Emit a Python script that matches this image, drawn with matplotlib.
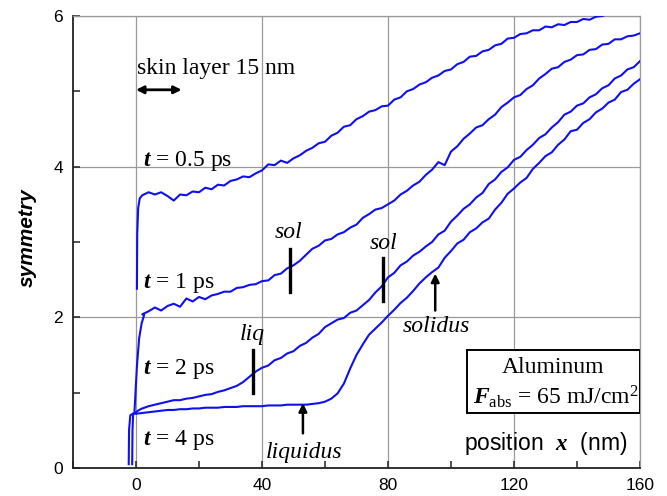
import numpy as np
import matplotlib
matplotlib.use("Agg")
import matplotlib.pyplot as plt
from matplotlib.patches import Rectangle
from matplotlib.ticker import MultipleLocator

plt.rcParams["mathtext.fontset"] = "custom"
plt.rcParams["mathtext.rm"] = "Liberation Serif"
plt.rcParams["mathtext.it"] = "Liberation Serif:italic"
plt.rcParams["mathtext.bf"] = "Liberation Serif:bold:italic"

# sampling grid (nm) for the profiles, after the steep rise near x = 0
pos = np.arange(2, 162, 2)

# t = 0.5 ps
head_05_x = [0.3, 0.4, 0.7, 1.2]
head_05_y = [2.38, 3.10, 3.45, 3.58]
t05 = [3.62, 3.66, 3.63, 3.66, 3.61, 3.55, 3.63, 3.62, 3.67, 3.66,
       3.72, 3.70, 3.76, 3.75, 3.81, 3.83, 3.87, 3.86, 3.91, 3.95,
       4.03, 4.02, 4.08, 4.05, 4.11, 4.15, 4.21, 4.25, 4.31, 4.33,
       4.41, 4.45, 4.53, 4.55, 4.63, 4.67, 4.73, 4.75, 4.80, 4.81,
       4.89, 4.92, 5.00, 5.03, 5.09, 5.12, 5.18, 5.21, 5.27, 5.29,
       5.36, 5.39, 5.46, 5.47, 5.53, 5.55, 5.61, 5.63, 5.70, 5.71,
       5.76, 5.77, 5.81, 5.81, 5.86, 5.85, 5.89, 5.88, 5.92, 5.92,
       5.96, 5.95, 5.99, 6.00, 6.03]

# t = 1 ps
head_1_x = [-0.5, 0.3, 1.0, 1.8, 2.6]
head_1_y = [0.73, 1.35, 1.72, 1.92, 2.03]
t1 = [2.04, 2.08, 2.13, 2.09, 2.15, 2.18, 2.14, 2.25, 2.21, 2.27,
      2.24, 2.29, 2.31, 2.34, 2.34, 2.39, 2.40, 2.43, 2.44, 2.48,
      2.49, 2.56, 2.58, 2.65, 2.69, 2.75, 2.83, 2.91, 2.95, 3.02,
      3.04, 3.10, 3.13, 3.19, 3.23, 3.32, 3.37, 3.43, 3.45, 3.50,
      3.55, 3.63, 3.68, 3.75, 3.80, 3.89, 3.96, 4.06, 4.02, 4.20,
      4.27, 4.37, 4.44, 4.52, 4.55, 4.63, 4.69, 4.79, 4.85, 4.92,
      4.95, 5.03, 5.08, 5.17, 5.23, 5.30, 5.32, 5.39, 5.42, 5.48,
      5.49, 5.55, 5.56, 5.62, 5.63, 5.69, 5.69, 5.73, 5.74, 5.77]

# t = 2 ps
head_2_x = [-1.2, -1.1, -0.9, 0.0, 1.0]
head_2_y = [0.05, 0.50, 0.72, 0.74, 0.77]
t2 = [0.79, 0.82, 0.84, 0.86, 0.88, 0.90, 0.90, 0.92, 0.93, 0.95,
      0.97, 0.98, 1.01, 1.03, 1.06, 1.09, 1.14, 1.21, 1.28, 1.33,
      1.36, 1.43, 1.46, 1.52, 1.55, 1.62, 1.66, 1.73, 1.78, 1.87,
      1.92, 1.97, 1.99, 2.06, 2.09, 2.16, 2.23, 2.33, 2.41, 2.53,
      2.59, 2.69, 2.74, 2.82, 2.87, 2.94, 3.00, 3.10, 3.15, 3.27,
      3.35, 3.44, 3.50, 3.59, 3.65, 3.77, 3.83, 3.93, 3.99, 4.09,
      4.13, 4.22, 4.29, 4.38, 4.43, 4.52, 4.59, 4.69, 4.73, 4.81,
      4.84, 4.92, 4.96, 5.04, 5.08, 5.17, 5.21, 5.29, 5.32, 5.40]

# t = 4 ps
head_4_x = [-2.3, -2.2, -1.8, -1.0, 0.0]
head_4_y = [0.05, 0.50, 0.70, 0.72, 0.72]
t4 = [0.73, 0.74, 0.75, 0.76, 0.77, 0.77, 0.78, 0.78, 0.79, 0.79,
      0.80, 0.80, 0.80, 0.81, 0.81, 0.81, 0.82, 0.82, 0.82, 0.82,
      0.83, 0.83, 0.83, 0.84, 0.84, 0.84, 0.84, 0.85, 0.86, 0.88,
      0.92, 0.99, 1.12, 1.32, 1.50, 1.64, 1.77, 1.85, 1.93, 2.02,
      2.10, 2.19, 2.26, 2.35, 2.45, 2.53, 2.60, 2.66, 2.79, 2.88,
      2.98, 3.03, 3.13, 3.18, 3.26, 3.31, 3.43, 3.52, 3.64, 3.71,
      3.79, 3.85, 3.97, 4.05, 4.14, 4.19, 4.29, 4.36, 4.47, 4.49,
      4.58, 4.63, 4.72, 4.77, 4.85, 4.89, 4.99, 5.02, 5.10, 5.16]

curves = [(head_05_x, head_05_y, t05), (head_1_x, head_1_y, t1),
          (head_2_x, head_2_y, t2), (head_4_x, head_4_y, t4)]

fig = plt.figure(figsize=(6.67, 4.96), dpi=100)
ax = fig.add_axes([0.1094, 0.0565, 0.8501, 0.9113])

for hx, hy, vals in curves:
    xs = list(hx) + list(pos[:len(vals)])
    ys = list(hy) + list(vals)
    ax.plot(xs, ys, color="#1010ee", lw=1.5, zorder=3, clip_on=True)

ax.set_xlim(-20, 160)
ax.set_ylim(0, 6)
ax.xaxis.set_major_locator(MultipleLocator(40))
ax.xaxis.set_minor_locator(MultipleLocator(20))
ax.yaxis.set_major_locator(MultipleLocator(2))
ax.yaxis.set_minor_locator(MultipleLocator(1))
ax.grid(True, which="major", color="#9a9a9a", lw=0.9, zorder=1)
ax.tick_params(which="both", direction="in", length=5, width=1.1, color="#222222",
               top=False, right=False)
ax.tick_params(axis="both", which="major", labelsize=12.5, pad=7)
for lab in ax.get_xticklabels() + ax.get_yticklabels():
    lab.set_family("Liberation Sans")
for s in ["left", "bottom"]:
    ax.spines[s].set_color("#222222")
    ax.spines[s].set_linewidth(1.3)
for s in ["top", "right"]:
    ax.spines[s].set_color("#9a9a9a")
    ax.spines[s].set_linewidth(0.9)

ax.set_ylabel("symmetry", family="Liberation Sans", fontsize=15,
              fontweight="bold", style="italic")
ax.yaxis.set_label_coords(-0.064, 0.51)

serif = dict(family="Liberation Serif", fontsize=17)

ax.text(0.3, 5.3, "skin layer 15 nm", va="center", ha="left", **serif)
ax.annotate("", xy=(0, 5.02), xytext=(14.5, 5.02),
            arrowprops=dict(arrowstyle="<|-|>", color="black", lw=2,
                            mutation_scale=11, shrinkA=0, shrinkB=0))

ax.text(2.2, 4.08, r"$\mathbf{t}$ = 0.5 ps", va="center", ha="left", **serif)
ax.text(2.2, 2.46, r"$\mathbf{t}$ = 1 ps", va="center", ha="left", **serif)
ax.text(2.2, 1.32, r"$\mathbf{t}$ = 2 ps", va="center", ha="left", **serif)
ax.text(2.2, 0.37, r"$\mathbf{t}$ = 4 ps", va="center", ha="left", **serif)

# melting markers
ax.plot([49, 49], [2.33, 2.91], color="black", lw=2.4, zorder=4)
ax.text(48.5, 3.12, "sol", style="italic", ha="center", va="center", **serif)
ax.plot([78.5, 78.5], [2.22, 2.79], color="black", lw=2.4, zorder=4)
ax.text(78.5, 2.98, "sol", style="italic", ha="center", va="center", **serif)
ax.plot([37.2, 37.2], [0.99, 1.56], color="black", lw=2.4, zorder=4)
ax.text(37, 1.77, "liq", style="italic", ha="center", va="center", **serif)

ax.annotate("", xy=(53, 0.86), xytext=(53, 0.46),
            arrowprops=dict(arrowstyle="-|>", color="black", lw=1.8,
                            mutation_scale=12, shrinkA=0, shrinkB=0))
ax.text(53.5, 0.21, "liquidus", style="italic", ha="center", va="center", **serif)
ax.annotate("", xy=(95, 2.58), xytext=(95, 2.09),
            arrowprops=dict(arrowstyle="-|>", color="black", lw=1.8,
                            mutation_scale=12, shrinkA=0, shrinkB=0))
ax.text(95.5, 1.88, "solidus", style="italic", ha="center", va="center", **serif)

# material box
ax.add_patch(Rectangle((0.695, 0.1217), 0.305, 0.1393, transform=ax.transAxes,
                       facecolor="white", edgecolor="black", lw=1.4, zorder=5))
ax.text(0.846, 0.223, "Aluminum", transform=ax.transAxes, ha="center",
        va="center", zorder=6, **serif)
ax.text(0.852, 0.158, r"$\mathbf{F}_{\rm abs}$ = 65 mJ/cm$^2$",
        transform=ax.transAxes, ha="center", va="center", zorder=6, **serif)

ax.text(156, 0.33, r"position  $\mathbf{x}$  (nm)", family="Liberation Sans",
        fontsize=16.5, ha="right", va="center")

fig.savefig("out.png", dpi=100)
